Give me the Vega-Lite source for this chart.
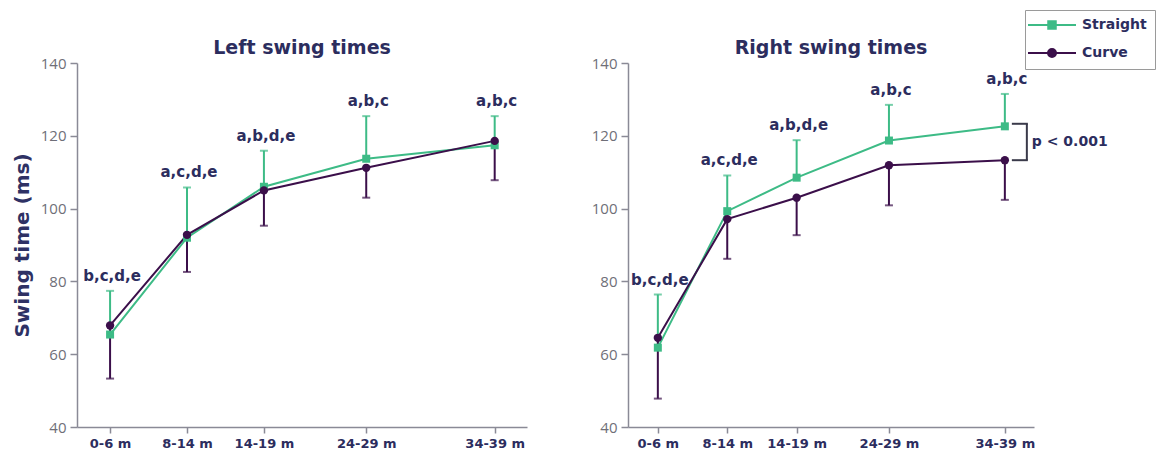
{
  "$schema": "https://vega.github.io/schema/vega-lite/v6.json",
  "padding": {"left": 12, "top": 9, "right": 0, "bottom": 0},
  "background": "white",
  "spacing": 64,
  "config": {
    "view": {"stroke": null},
    "font": "DejaVu Sans",
    "axis": {"grid": false, "domainColor": "#8a8a96", "tickColor": "#8a8a96", "domainWidth": 1.5, "tickWidth": 1.5}
  },
  "datasets": {
    "pts": [
      {"side": "Left", "group": "Straight", "t": 1, "mean": 65.4, "end": 77.4},
      {"side": "Left", "group": "Straight", "t": 2, "mean": 92.0, "end": 105.8},
      {"side": "Left", "group": "Straight", "t": 3, "mean": 106.0, "end": 115.9},
      {"side": "Left", "group": "Straight", "t": 4.33, "mean": 113.7, "end": 125.4},
      {"side": "Left", "group": "Straight", "t": 6, "mean": 117.4, "end": 125.4},
      {"side": "Left", "group": "Curve", "t": 1, "mean": 67.9, "end": 53.3},
      {"side": "Left", "group": "Curve", "t": 2, "mean": 92.8, "end": 82.6},
      {"side": "Left", "group": "Curve", "t": 3, "mean": 105.0, "end": 95.3},
      {"side": "Left", "group": "Curve", "t": 4.33, "mean": 111.2, "end": 103.0},
      {"side": "Left", "group": "Curve", "t": 6, "mean": 118.6, "end": 107.8},
      {"side": "Right", "group": "Straight", "t": 1, "mean": 61.8, "end": 76.4},
      {"side": "Right", "group": "Straight", "t": 2, "mean": 99.3, "end": 109.1},
      {"side": "Right", "group": "Straight", "t": 3, "mean": 108.5, "end": 118.8},
      {"side": "Right", "group": "Straight", "t": 4.33, "mean": 118.7, "end": 128.5},
      {"side": "Right", "group": "Straight", "t": 6, "mean": 122.6, "end": 131.5},
      {"side": "Right", "group": "Curve", "t": 1, "mean": 64.5, "end": 47.8},
      {"side": "Right", "group": "Curve", "t": 2, "mean": 97.1, "end": 86.2},
      {"side": "Right", "group": "Curve", "t": 3, "mean": 103.0, "end": 92.7},
      {"side": "Right", "group": "Curve", "t": 4.33, "mean": 111.9, "end": 100.9},
      {"side": "Right", "group": "Curve", "t": 6, "mean": 113.3, "end": 102.4}
    ],
    "ann": [
      {"side": "Left", "t": 1, "y": 77.4, "label": "b,c,d,e"},
      {"side": "Left", "t": 2, "y": 105.8, "label": "a,c,d,e"},
      {"side": "Left", "t": 3, "y": 115.9, "label": "a,b,d,e"},
      {"side": "Left", "t": 4.33, "y": 125.4, "label": "a,b,c"},
      {"side": "Left", "t": 6, "y": 125.4, "label": "a,b,c"},
      {"side": "Right", "t": 1, "y": 76.4, "label": "b,c,d,e"},
      {"side": "Right", "t": 2, "y": 109.1, "label": "a,c,d,e"},
      {"side": "Right", "t": 3, "y": 118.8, "label": "a,b,d,e"},
      {"side": "Right", "t": 4.33, "y": 128.5, "label": "a,b,c"},
      {"side": "Right", "t": 6, "y": 131.5, "label": "a,b,c"}
    ],
    "bracket": [
      {"t": 6, "hi": 123.3, "lo": 113.3, "mid": 118.3, "label": "p < 0.001"}
    ]
  },
  "hconcat": [
    {
      "width": 450,
      "height": 364,
      "title": {"text": "Left swing times", "font": "DejaVu Sans", "fontSize": 19, "fontWeight": "bold", "color": "#2c2d5e", "offset": -2},
      "encoding": {
        "x": {"field": "t", "type": "quantitative", "scale": {"domain": [0.57, 6.42], "nice": false, "zero": false},
          "axis": {"title": null, "values": [1, 2, 3, 4.33, 6], "labelExpr": "datum.value == 1 ? '0-6 m' : datum.value == 2 ? '8-14 m' : datum.value == 3 ? '14-19 m' : datum.value == 6 ? '34-39 m' : '24-29 m'",
            "labelFont": "DejaVu Sans", "labelFontWeight": "bold", "labelFontSize": 13, "labelColor": "#2c2d5e", "tickSize": 6, "labelPadding": 4}}
      },
      "layer": [
        {
          "data": {"name": "pts"},
          "transform": [{"filter": "datum.side === 'Left'"}],
          "mark": {"type": "rule", "strokeWidth": 2},
          "encoding": {
            "y": {"field": "mean", "type": "quantitative", "scale": {"domain": [40, 140], "nice": false, "zero": false},
              "axis": {"title": "Swing time (ms)", "titleFont": "DejaVu Sans", "titleFontSize": 20, "titleFontWeight": "bold", "titleColor": "#2e3164", "titlePadding": 8,
                "values": [40, 50, 60, 70, 80, 90, 100, 110, 120, 130, 140], "labelExpr": "datum.value % 20 === 0 ? datum.label : ''",
                "tickSize": {"condition": {"test": "datum.value % 20 === 0", "value": 7}, "value": 3.5},
                "labelFont": "Open Sans", "labelFontSize": 15, "labelColor": "#6f6f78", "labelPadding": 4}},
            "y2": {"field": "end"},
            "color": {"field": "group", "type": "nominal", "scale": {"domain": ["Straight", "Curve"], "range": ["#3dbb86", "#3b0f4a"]},
              "legend": {"orient": "none", "legendX": 948, "legendY": -53, "title": null,
                "strokeColor": "#9a9a9a", "fillColor": "white", "padding": 8, "rowPadding": 12,
                "labelFont": "DejaVu Sans", "labelFontWeight": "bold", "labelFontSize": 14, "labelColor": "#2c2d5e",
                "symbolSize": 100, "symbolOffset": 12, "labelOffset": 23, "symbolStrokeWidth": 2,
                "encode": {"symbols": {"update": {
                  "shape": {"signal": "datum.value === 'Straight' ? 'M-4.8,0H4.8M-0.75,-0.75H0.75V0.75H-0.75Z' : 'M-4.8,0H4.8M0.8,0A0.8,0.8 0 1,1 -0.8,0A0.8,0.8 0 1,1 0.8,0Z'"},
                  "fill": {"signal": "datum.value === 'Straight' ? '#3dbb86' : '#3b0f4a'"},
                  "stroke": {"signal": "datum.value === 'Straight' ? '#3dbb86' : '#3b0f4a'"},
                  "strokeWidth": {"value": 2},
                  "opacity": {"value": 1}
                }}}}}
          }
        },
        {
          "data": {"name": "pts"},
          "transform": [{"filter": "datum.side === 'Left'"}],
          "mark": {"type": "tick", "orient": "horizontal", "size": 8, "thickness": 2},
          "encoding": {
            "y": {"field": "end", "type": "quantitative"},
            "color": {"field": "group", "type": "nominal"}
          }
        },
        {
          "data": {"name": "pts"},
          "transform": [{"filter": "datum.side === 'Left'"}],
          "mark": {"type": "line", "strokeWidth": 2},
          "encoding": {
            "y": {"field": "mean", "type": "quantitative"},
            "color": {"field": "group", "type": "nominal"}
          }
        },
        {
          "data": {"name": "pts"},
          "transform": [{"filter": "datum.side === 'Left' && datum.group === 'Straight'"}],
          "mark": {"type": "point", "filled": true, "opacity": 1, "size": 64, "shape": "square"},
          "encoding": {
            "y": {"field": "mean", "type": "quantitative"},
            "color": {"field": "group", "type": "nominal"}
          }
        },
        {
          "data": {"name": "pts"},
          "transform": [{"filter": "datum.side === 'Left' && datum.group === 'Curve'"}],
          "mark": {"type": "point", "filled": true, "opacity": 1, "size": 70, "shape": "circle"},
          "encoding": {
            "y": {"field": "mean", "type": "quantitative"},
            "color": {"field": "group", "type": "nominal"}
          }
        },
        {
          "data": {"name": "ann"},
          "transform": [{"filter": "datum.side === 'Left'"}],
          "mark": {"type": "text", "font": "DejaVu Sans", "fontWeight": "bold", "fontSize": 15, "color": "#2c2d5e", "baseline": "middle", "dy": -15, "dx": 2},
          "encoding": {
            "y": {"field": "y", "type": "quantitative"},
            "text": {"field": "label"}
          }
        }
      ]
    },
    {
      "width": 406,
      "height": 364,
      "title": {"text": "Right swing times", "font": "DejaVu Sans", "fontSize": 19, "fontWeight": "bold", "color": "#2c2d5e", "offset": -2},
      "encoding": {
        "x": {"field": "t", "type": "quantitative", "scale": {"domain": [0.57, 6.42], "nice": false, "zero": false},
          "axis": {"title": null, "values": [1, 2, 3, 4.33, 6], "labelExpr": "datum.value == 1 ? '0-6 m' : datum.value == 2 ? '8-14 m' : datum.value == 3 ? '14-19 m' : datum.value == 6 ? '34-39 m' : '24-29 m'",
            "labelFont": "DejaVu Sans", "labelFontWeight": "bold", "labelFontSize": 13, "labelColor": "#2c2d5e", "tickSize": 6, "labelPadding": 4}}
      },
      "layer": [
        {
          "data": {"name": "pts"},
          "transform": [{"filter": "datum.side === 'Right'"}],
          "mark": {"type": "rule", "strokeWidth": 2},
          "encoding": {
            "y": {"field": "mean", "type": "quantitative", "scale": {"domain": [40, 140], "nice": false, "zero": false},
              "axis": {"title": null,
                "values": [40, 50, 60, 70, 80, 90, 100, 110, 120, 130, 140], "labelExpr": "datum.value % 20 === 0 ? datum.label : ''",
                "tickSize": {"condition": {"test": "datum.value % 20 === 0", "value": 7}, "value": 3.5},
                "labelFont": "Open Sans", "labelFontSize": 15, "labelColor": "#6f6f78", "labelPadding": 4}},
            "y2": {"field": "end"},
            "color": {"field": "group", "type": "nominal"}
          }
        },
        {
          "data": {"name": "pts"},
          "transform": [{"filter": "datum.side === 'Right'"}],
          "mark": {"type": "tick", "orient": "horizontal", "size": 8, "thickness": 2},
          "encoding": {
            "y": {"field": "end", "type": "quantitative"},
            "color": {"field": "group", "type": "nominal"}
          }
        },
        {
          "data": {"name": "pts"},
          "transform": [{"filter": "datum.side === 'Right'"}],
          "mark": {"type": "line", "strokeWidth": 2},
          "encoding": {
            "y": {"field": "mean", "type": "quantitative"},
            "color": {"field": "group", "type": "nominal"}
          }
        },
        {
          "data": {"name": "pts"},
          "transform": [{"filter": "datum.side === 'Right' && datum.group === 'Straight'"}],
          "mark": {"type": "point", "filled": true, "opacity": 1, "size": 64, "shape": "square"},
          "encoding": {
            "y": {"field": "mean", "type": "quantitative"},
            "color": {"field": "group", "type": "nominal"}
          }
        },
        {
          "data": {"name": "pts"},
          "transform": [{"filter": "datum.side === 'Right' && datum.group === 'Curve'"}],
          "mark": {"type": "point", "filled": true, "opacity": 1, "size": 70, "shape": "circle"},
          "encoding": {
            "y": {"field": "mean", "type": "quantitative"},
            "color": {"field": "group", "type": "nominal"}
          }
        },
        {
          "data": {"name": "ann"},
          "transform": [{"filter": "datum.side === 'Right'"}],
          "mark": {"type": "text", "font": "DejaVu Sans", "fontWeight": "bold", "fontSize": 15, "color": "#2c2d5e", "baseline": "middle", "dy": -15, "dx": 2},
          "encoding": {
            "y": {"field": "y", "type": "quantitative"},
            "text": {"field": "label"}
          }
        },
        {
          "data": {"name": "bracket"},
          "mark": {"type": "rule", "strokeWidth": 2, "color": "#3a3a4a", "xOffset": 22, "x2Offset": 22},
          "encoding": {
            "y": {"field": "hi", "type": "quantitative"},
            "y2": {"field": "lo"}
          }
        },
        {
          "data": {"name": "bracket"},
          "mark": {"type": "rule", "strokeWidth": 2, "color": "#3a3a4a", "xOffset": 7, "x2Offset": 23},
          "encoding": {
            "y": {"field": "hi", "type": "quantitative"},
            "x2": {"field": "t"}
          }
        },
        {
          "data": {"name": "bracket"},
          "mark": {"type": "rule", "strokeWidth": 2, "color": "#3a3a4a", "xOffset": 7, "x2Offset": 23},
          "encoding": {
            "y": {"field": "lo", "type": "quantitative"},
            "x2": {"field": "t"}
          }
        },
        {
          "data": {"name": "bracket"},
          "mark": {"type": "text", "font": "DejaVu Sans", "fontWeight": "bold", "fontSize": 14, "color": "#2c2d5e", "align": "left", "baseline": "middle", "dx": 27},
          "encoding": {
            "y": {"field": "mid", "type": "quantitative"},
            "text": {"field": "label"}
          }
        }
      ]
    }
  ]
}
